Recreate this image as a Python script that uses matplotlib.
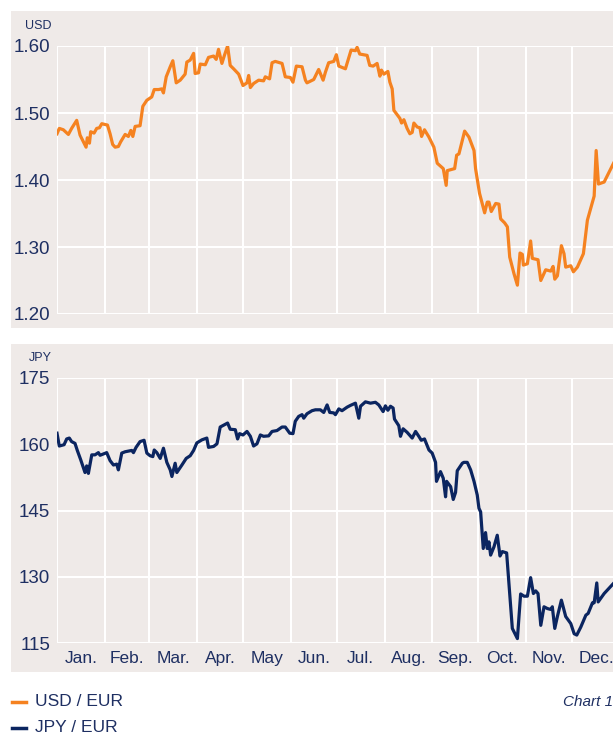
import matplotlib
matplotlib.use("Agg")
import matplotlib.pyplot as plt
from matplotlib.patches import Rectangle
from matplotlib.lines import Line2D

plt.rcParams['font.family'] = ['Liberation Sans', 'DejaVu Sans']

# day of year (2008) -> rate
usd_days = [0, 1.5, 4.1, 7.4, 9.5, 12.8, 15.0, 18.9, 19.7, 21.1, 21.9, 24.1, 25.8, 27.6, 29.1,
            32.8, 34.5, 36.2, 37.8, 39.9, 41.4, 44.3, 46.4, 48.0, 49.3, 50.8, 54.0, 55.8, 58.4,
            61.6, 63.2, 66.0, 68.1, 69.2, 71.0, 73.6, 75.3, 77.5, 80.1, 83.3, 84.4, 86.6, 88.8,
            89.8, 92.0, 93.1, 96.4, 98.5, 101.8, 103.5, 105.0, 107.2, 108.7, 110.9, 112.6, 114.8,
            118.1, 120.9, 123.5, 124.6, 125.7, 127.8, 131.1, 134.3, 135.4, 138.2, 139.8, 141.9,
            146.3, 148.4, 151.7, 153.4, 155.6, 159.3, 161.5, 162.5, 166.9, 170.1, 173.0, 174.5,
            176.6, 179.9, 181.6, 183.2, 187.5, 191.2, 194.0, 195.1, 196.8, 201.6, 203.3, 205.5,
            208.1, 209.9, 210.9, 212.5, 215.1, 216.4, 217.9, 219.0, 222.9, 224.0, 225.5, 227.6,
            229.4, 230.9, 232.0, 234.2, 235.9, 237.0, 238.9, 241.8, 245.0, 247.2, 251.1, 253.0,
            253.7, 258.5, 259.8, 261.3, 265.0, 267.8, 271.1, 272.1, 274.7, 278.0, 279.7, 280.8,
            282.3, 285.2, 287.3, 288.4, 291.0, 292.8, 294.3, 297.1, 299.3, 301.0, 302.5, 303.2,
            305.8, 307.9, 309.0, 312.7, 314.5, 317.7, 321.0, 322.5, 323.6, 325.3, 327.9, 329.6,
            330.7, 334.0, 335.7, 338.3, 342.2, 344.8, 349.2, 350.5, 352.0, 355.7, 361.8]
usd_vals = [1.469, 1.477, 1.475, 1.468, 1.477, 1.489, 1.467, 1.449, 1.463, 1.455, 1.472, 1.470,
            1.477, 1.478, 1.484, 1.482, 1.469, 1.453, 1.449, 1.450, 1.457, 1.468, 1.465, 1.474,
            1.465, 1.480, 1.481, 1.510, 1.519, 1.524, 1.535, 1.535, 1.536, 1.530, 1.554, 1.569,
            1.578, 1.545, 1.549, 1.558, 1.576, 1.579, 1.589, 1.559, 1.560, 1.573, 1.572, 1.583,
            1.585, 1.580, 1.595, 1.574, 1.585, 1.600, 1.571, 1.566, 1.558, 1.541, 1.545, 1.556,
            1.538, 1.544, 1.549, 1.548, 1.554, 1.551, 1.575, 1.577, 1.574, 1.554, 1.553, 1.546,
            1.570, 1.569, 1.549, 1.545, 1.550, 1.565, 1.549, 1.561, 1.575, 1.577, 1.587, 1.570,
            1.566, 1.594, 1.593, 1.598, 1.588, 1.586, 1.571, 1.570, 1.574, 1.555, 1.564, 1.558,
            1.562, 1.546, 1.536, 1.504, 1.492, 1.485, 1.490, 1.477, 1.469, 1.471, 1.485, 1.479,
            1.478, 1.465, 1.475, 1.464, 1.449, 1.425, 1.417, 1.392, 1.414, 1.417, 1.437, 1.439,
            1.473, 1.464, 1.444, 1.417, 1.380, 1.351, 1.367, 1.367, 1.353, 1.365, 1.364, 1.342,
            1.336, 1.330, 1.285, 1.260, 1.243, 1.291, 1.289, 1.273, 1.275, 1.309, 1.283, 1.281,
            1.250, 1.266, 1.264, 1.271, 1.252, 1.257, 1.302, 1.290, 1.270, 1.272, 1.263, 1.270,
            1.290, 1.340, 1.376, 1.444, 1.394, 1.397, 1.425]

jpy_days = [0, 1.5, 4.6, 6.3, 8.0, 9.5, 11.7, 13.2, 15.4, 18.2, 19.3, 20.4, 22.6, 24.7, 26.9,
            28.0, 30.2, 32.3, 34.5, 36.7, 38.8, 39.9, 42.1, 44.3, 48.6, 49.7, 51.4, 54.0, 56.6,
            58.4, 60.5, 62.3, 63.2, 64.9, 67.1, 69.2, 71.4, 73.6, 74.7, 76.8, 77.9, 81.2, 84.0,
            86.6, 88.8, 90.9, 94.2, 97.4, 98.5, 101.8, 104.0, 106.1, 108.7, 110.9, 112.6, 115.9,
            117.4, 118.7, 120.9, 123.5, 125.7, 127.8, 130.0, 132.2, 134.3, 137.6, 139.8, 143.0,
            146.3, 148.4, 151.3, 153.4, 154.9, 157.1, 159.3, 160.4, 162.5, 165.8, 168.0, 171.2,
            173.4, 175.6, 177.3, 179.9, 181.0, 183.2, 185.3, 188.6, 190.8, 194.0, 196.2, 197.3,
            200.5, 203.8, 207.0, 209.2, 212.0, 213.5, 215.1, 216.8, 218.5, 219.4, 222.2, 223.3,
            225.0, 227.6, 230.9, 233.1, 235.2, 236.8, 238.9, 241.8, 243.9, 246.1, 246.7, 249.3,
            251.1, 252.6, 253.3, 255.9, 257.6, 259.1, 260.2, 263.5, 264.5, 266.7, 268.9, 271.1,
            273.2, 274.3, 275.4, 277.1, 278.6, 279.7, 280.8, 281.9, 284.1, 286.2, 288.0, 289.5,
            292.3, 293.8, 294.9, 296.0, 299.3, 300.3, 301.4, 303.6, 305.8, 307.9, 309.7, 311.2,
            312.7, 314.5, 316.6, 318.8, 321.0, 322.0, 323.6, 325.3, 327.9, 330.7, 334.0, 336.2,
            337.9, 340.5, 343.8, 345.3, 348.1, 349.2, 350.9, 351.8, 355.7, 361.8]
jpy_vals = [162.5, 159.6, 159.9, 161.2, 161.4, 160.6, 160.2, 158.6, 156.5, 153.6, 155.1, 153.4,
            157.6, 157.6, 158.1, 157.5, 157.8, 158.1, 156.3, 155.3, 155.5, 154.2, 158.0, 158.3,
            158.6, 158.1, 159.3, 160.6, 160.9, 158.0, 157.4, 157.2, 158.7, 158.1, 156.8, 159.1,
            155.9, 154.2, 152.7, 155.7, 153.6, 155.3, 156.8, 157.4, 158.6, 160.3, 161.0, 161.4,
            159.3, 159.5, 160.1, 163.9, 164.4, 164.8, 163.4, 163.3, 161.2, 162.4, 162.1, 162.9,
            161.8, 159.6, 160.1, 162.1, 161.8, 161.9, 162.9, 163.1, 163.9, 163.9, 162.5, 162.4,
            165.2, 166.3, 166.7, 165.9, 166.9, 167.6, 167.8, 167.8, 167.2, 168.9, 167.2, 167.1,
            166.7, 168.0, 167.6, 168.4, 168.8, 169.3, 165.9, 168.6, 169.6, 169.3, 169.5, 168.9,
            167.4, 168.7, 167.7, 168.6, 168.2, 165.7, 164.2, 161.8, 163.5, 162.7, 161.4, 162.9,
            161.8, 160.9, 161.2, 158.7, 158.0, 155.9, 151.6, 153.8, 152.3, 148.1, 151.6, 150.4,
            147.5, 149.1, 154.0, 155.7, 155.9, 155.9, 154.2, 151.6, 148.5, 145.5, 144.7, 136.4,
            140.0, 136.4, 137.9, 134.9, 136.8, 139.4, 134.7, 135.7, 135.4, 128.5, 123.2, 118.3,
            116.0, 120.9, 126.1, 125.6, 125.6, 129.8, 126.2, 126.8, 126.2, 119.0, 123.2, 122.8,
            122.6, 123.2, 118.3, 121.0, 124.7, 121.0, 119.4, 117.1, 116.8, 118.6, 121.3, 121.7,
            124.1, 124.1, 128.6, 124.3, 126.2, 128.5]

month_starts = [0, 31, 60, 91, 121, 152, 182, 213, 244, 274, 305, 335, 366]
month_names = ['Jan.', 'Feb.', 'Mar.', 'Apr.', 'May', 'Jun.', 'Jul.', 'Aug.', 'Sep.', 'Oct.', 'Nov.', 'Dec.']
usd_ticks = [1.20, 1.30, 1.40, 1.50, 1.60]
jpy_ticks = [115, 130, 145, 160, 175]

ORANGE = '#F58220'
NAVY = '#0B2560'
TXT = '#1E2F62'
BG = '#EFEAE8'

W, H = 613, 733
fig = plt.figure(figsize=(W / 100, H / 100), dpi=100)
fig.patch.set_facecolor('white')

# panel backgrounds (pixel boxes -> figure fraction), behind the axes
for top, bot in [(11, 328), (344, 672)]:
    fig.patches.append(Rectangle((11 / W, 1 - bot / H), 1, (bot - top) / H,
                                 transform=fig.transFigure, facecolor=BG, edgecolor='none', zorder=-5))


def setup(ax, ticks, labels, unit, show_months):
    ax.set_facecolor('none')
    for s in ax.spines.values():
        s.set_visible(False)
    ax.set_xlim(0, 366)
    ax.set_ylim(ticks[0], ticks[-1])
    ax.set_yticks(ticks)
    ax.set_yticklabels(labels)
    ax.set_xticks(month_starts)
    ax.set_xticklabels([])
    ax.grid(True, color='white', linewidth=1.5)
    ax.set_axisbelow(True)
    ax.tick_params(axis='both', which='major', length=0, labelsize=13.5, labelcolor=TXT, pad=5)
    mids = [(month_starts[i] + month_starts[i + 1]) / 2 for i in range(12)]
    ax.set_xticks(mids, minor=True)
    if show_months:
        ax.set_xticklabels(month_names, minor=True)
    else:
        ax.set_xticklabels([], minor=True)
    ax.tick_params(axis='x', which='minor', length=0, labelsize=12.5, labelcolor=TXT, pad=6)
    ax.text(-0.01, 1.075, unit, transform=ax.transAxes, ha='right', va='center', fontsize=9, color=TXT)


ax1 = fig.add_axes([57 / W, 1 - 314 / H, 563 / W, 268 / H])
setup(ax1, usd_ticks, ['%.2f' % t for t in usd_ticks], 'USD', False)
ax1.plot(usd_days, usd_vals, color=ORANGE, linewidth=2.3)

ax2 = fig.add_axes([57 / W, 1 - 643 / H, 563 / W, 265 / H])
setup(ax2, jpy_ticks, [str(t) for t in jpy_ticks], 'JPY', True)
ax2.plot(jpy_days, jpy_vals, color=NAVY, linewidth=2.3)

# legend
for y, c, lab in [(702, ORANGE, 'USD / EUR'), (728, NAVY, 'JPY / EUR')]:
    fig.lines.append(Line2D([12 / W, 26 / W], [1 - y / H, 1 - y / H], transform=fig.transFigure,
                            color=c, linewidth=2.5))
    fig.text(35 / W, 1 - y / H, lab, ha='left', va='center', fontsize=12.5, color=TXT)

fig.text(563 / W, 1 - 702 / H, 'Chart 1', ha='left', va='center', fontsize=11,
         style='italic', color=TXT)

fig.savefig('out.png', dpi=100)
